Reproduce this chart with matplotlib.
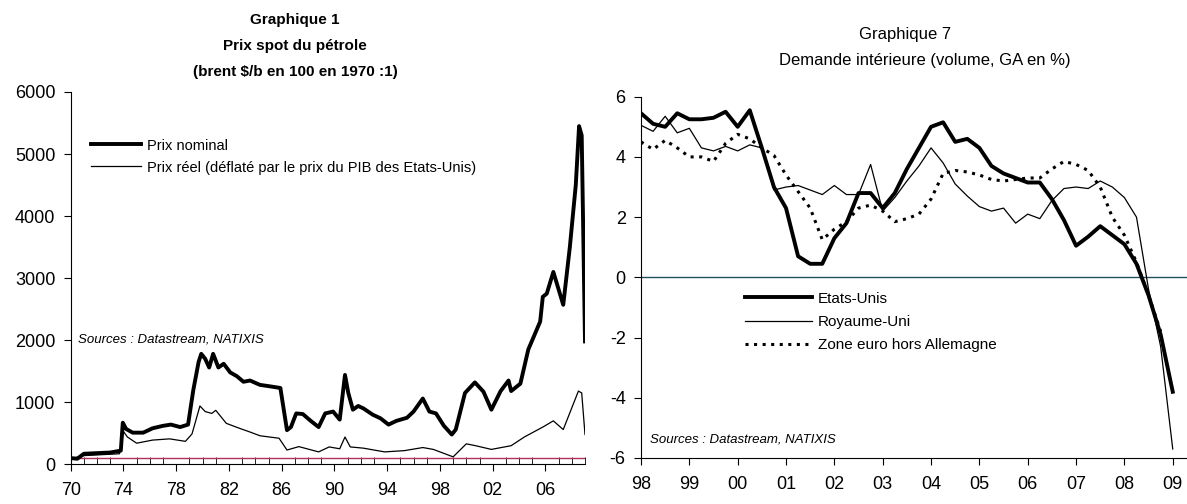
import matplotlib
matplotlib.use('Agg')
import matplotlib.pyplot as plt
from matplotlib.lines import Line2D

plt.rcParams['font.family'] = ['Liberation Sans', 'DejaVu Sans']

# --- Graphique 1 : prix spot du pétrole (base 100 en 1970) ---
nom_years = [1970.0, 1970.5, 1971.0, 1972.0, 1973.0, 1973.8, 1973.95, 1974.2, 1974.7,
             1975.5, 1976.2, 1977.0, 1977.6, 1978.3, 1978.9, 1979.3, 1979.7, 1979.9,
             1980.2, 1980.5, 1980.8, 1981.2, 1981.6, 1982.1, 1982.6, 1983.1, 1983.6,
             1984.35, 1985.0, 1985.9, 1986.4, 1986.7, 1987.1, 1987.6, 1988.2, 1988.8,
             1989.3, 1989.9, 1990.4, 1990.8, 1991.05, 1991.4, 1991.8, 1992.2, 1992.9,
             1993.5, 1994.1, 1994.7, 1995.5, 1996.0, 1996.7, 1997.2, 1997.7, 1998.3,
             1998.9, 1999.2, 1999.9, 2000.65, 2001.3, 2001.9, 2002.6, 2003.2, 2003.4,
             2004.1, 2004.7, 2005.6, 2005.8, 2006.1, 2006.6, 2007.35, 2007.85, 2008.3,
             2008.55, 2008.75, 2009.0]
nom_values = [100, 90, 170, 180, 190, 220, 670, 570, 510,
              510, 580, 620, 640, 600, 640, 1200, 1650, 1780,
              1700, 1560, 1780, 1560, 1620, 1480, 1420, 1330, 1350,
              1280, 1260, 1230, 550, 600, 820, 810, 700, 600,
              820, 850, 720, 1440, 1150, 880, 940, 900, 800,
              740, 640, 700, 750, 850, 1060, 850, 820, 620,
              480, 560, 1150, 1320, 1170, 880, 1180, 1350, 1180,
              1300, 1850, 2300, 2700, 2750, 3100, 2570, 3500, 4500,
              5450, 5300, 1980]

real_years = [1970.0, 1971.0, 1973.7, 1974.0, 1974.3, 1975.0, 1976.2, 1977.5, 1978.7,
              1979.2, 1979.8, 1980.2, 1980.7, 1981.0, 1981.8, 1982.8, 1983.6, 1984.35,
              1985.8, 1986.4, 1987.3, 1988.8, 1989.6, 1990.4, 1990.8, 1991.2, 1992.2,
              1993.8, 1995.3, 1996.7, 1997.5, 1999.0, 2000.0, 2000.7, 2001.9, 2003.4,
              2004.4, 2005.8, 2006.6, 2007.35, 2008.5, 2008.75, 2009.0]
real_values = [90, 140, 170, 530, 440, 340, 390, 410, 370,
               490, 940, 850, 820, 870, 660, 580, 520, 460,
               420, 230, 285, 200, 280, 250, 440, 280, 260,
               200, 220, 270, 240, 120, 330, 300, 240, 300,
               440, 600, 700, 560, 1180, 1150, 480]

base_years = [1970.0, 2009.0]
base_values = [100, 100]

# --- Graphique 7 : demande intérieure, trimestriel 1998T1 - 2009T1 ---
quarters = [1998 + q / 4 for q in range(45)]
etats_unis = [5.45, 5.1, 5.0, 5.45, 5.25, 5.25, 5.3, 5.5, 5.0, 5.55,
              4.3, 3.0, 2.3, 0.7, 0.45, 0.45, 1.3, 1.8, 2.8, 2.8,
              2.3, 2.8, 3.6, 4.3, 5.0, 5.15, 4.5, 4.6, 4.3, 3.7,
              3.45, 3.3, 3.15, 3.15, 2.6, 1.9, 1.05, 1.35, 1.7, 1.4,
              1.1, 0.45, -0.6, -1.9, -3.8]
royaume_uni = [5.05, 4.85, 5.35, 4.8, 4.95, 4.3, 4.2, 4.35, 4.2, 4.4,
               4.3, 2.9, 3.0, 3.05, 2.9, 2.75, 3.05, 2.75, 2.75, 3.75,
               2.2, 2.65, 3.2, 3.7, 4.3, 3.8, 3.1, 2.7, 2.35, 2.2,
               2.3, 1.8, 2.1, 1.95, 2.55, 2.95, 3.0, 2.95, 3.2, 3.0,
               2.65, 2.0, -0.4, -2.3, -5.7]
zone_euro = [4.5, 4.25, 4.55, 4.3, 4.0, 4.0, 3.85, 4.45, 4.75, 4.6,
             4.3, 4.05, 3.4, 2.85, 2.3, 1.25, 1.6, 1.85, 2.3, 2.4,
             2.2, 1.85, 1.95, 2.1, 2.6, 3.45, 3.55, 3.5, 3.4, 3.25,
             3.2, 3.25, 3.3, 3.3, 3.6, 3.85, 3.75, 3.55, 3.0, 2.0,
             1.4, 0.5, -0.6, -1.8]

W, H = 1187, 504
fig = plt.figure(figsize=(W / 100, H / 100), dpi=100)


def px_axes(x0, x1, ytop, ybot):
    return fig.add_axes([x0 / W, (H - ybot) / H, (x1 - x0) / W, (ybot - ytop) / H])


tick_fs = 13

# ---------------- Graphique 1 ----------------
ax1 = px_axes(70.7, 585, 92, 464.3)
ax1.plot(base_years, base_values, color='#b0305a', lw=1.0)
ax1.plot(real_years, real_values, color='black', lw=0.9)
ax1.plot(nom_years, nom_values, color='black', lw=2.8, solid_joinstyle='round')
ax1.set_xlim(1970, 2009)
ax1.set_ylim(0, 6000)
ax1.set_yticks(range(0, 6001, 1000))
ax1.set_xticks(range(1970, 2007, 4))
ax1.set_xticklabels([f'{y % 100:02d}' for y in range(1970, 2007, 4)])
ax1.set_xticks(range(1970, 2010), minor=True)
ax1.tick_params(axis='x', which='major', direction='out', length=5, pad=8, labelsize=tick_fs)
ax1.tick_params(axis='x', which='minor', direction='in', length=5)
ax1.tick_params(axis='y', direction='out', length=5, pad=6, labelsize=tick_fs)
for s in ['top', 'right']:
    ax1.spines[s].set_visible(False)

leg1 = ax1.legend(
    [Line2D([], [], color='black', lw=2.8), Line2D([], [], color='black', lw=0.9)],
    ['Prix nominal', 'Prix réel (déflaté par le prix du PIB des Etats-Unis)'],
    loc='upper left', bbox_to_anchor=(0.04, 0.875), frameon=False,
    fontsize=10.5, handlelength=3.4, handletextpad=0.4, labelspacing=0.55,
    borderpad=0, borderaxespad=0)
ax1.text(0.014, 0.334, 'Sources : Datastream, NATIXIS', transform=ax1.transAxes,
         fontsize=9.5, style='italic', va='center', ha='left')

fig.text(295 / W, 1 - 20 / H, 'Graphique 1', ha='center', va='center',
         fontsize=11, fontweight='bold')
fig.text(295 / W, 1 - 46 / H, 'Prix spot du pétrole', ha='center', va='center',
         fontsize=11, fontweight='bold')
fig.text(295 / W, 1 - 72 / H, '(brent $/b en 100 en 1970 :1)', ha='center', va='center',
         fontsize=11, fontweight='bold')

# ---------------- Graphique 7 ----------------
ax2 = px_axes(641, 1187, 96.7, 458)
ax2.axhline(0, color='#1f4f5a', lw=1.0)
ax2.plot(quarters[:len(zone_euro)], zone_euro, color='black', lw=2.2,
         linestyle=(0, (1.0, 1.8)))
ax2.plot(quarters, royaume_uni, color='black', lw=0.9)
ax2.plot(quarters, etats_unis, color='black', lw=2.8, solid_joinstyle='round')
ax2.set_xlim(1998, 1998 + 546 / 48.34)
ax2.set_ylim(-6, 6)
yt = list(range(-6, 7, 2))
ax2.set_yticks(yt)
ax2.set_yticklabels([str(v).replace('\u2212', '-') for v in yt])
xt = list(range(1998, 2010))
ax2.set_xticks(xt)
ax2.set_xticklabels([f'{y % 100:02d}' for y in xt])
ax2.tick_params(axis='x', direction='out', length=5, pad=8, labelsize=tick_fs)
ax2.tick_params(axis='y', direction='out', length=5, pad=6, labelsize=tick_fs)
for s in ['top', 'right']:
    ax2.spines[s].set_visible(False)

leg2 = ax2.legend(
    [Line2D([], [], color='black', lw=2.8), Line2D([], [], color='black', lw=0.9),
     Line2D([], [], color='black', lw=2.2, linestyle=(0, (1.0, 1.8)))],
    ['Etats-Unis', 'Royaume-Uni', 'Zone euro hors Allemagne'],
    loc='upper left', bbox_to_anchor=(0.19, 0.46), frameon=False,
    fontsize=11, handlelength=4.4, handletextpad=0.4, labelspacing=0.6,
    borderpad=0, borderaxespad=0)
ax2.text(0.016, 0.05, 'Sources : Datastream, NATIXIS', transform=ax2.transAxes,
         fontsize=9.5, style='italic', va='center', ha='left')

fig.text(905 / W, 1 - 34 / H, 'Graphique 7', ha='center', va='center', fontsize=12)
fig.text(925 / W, 1 - 60 / H, 'Demande intérieure (volume, GA en %)', ha='center',
         va='center', fontsize=12)

fig.savefig('out.png', dpi=100)
